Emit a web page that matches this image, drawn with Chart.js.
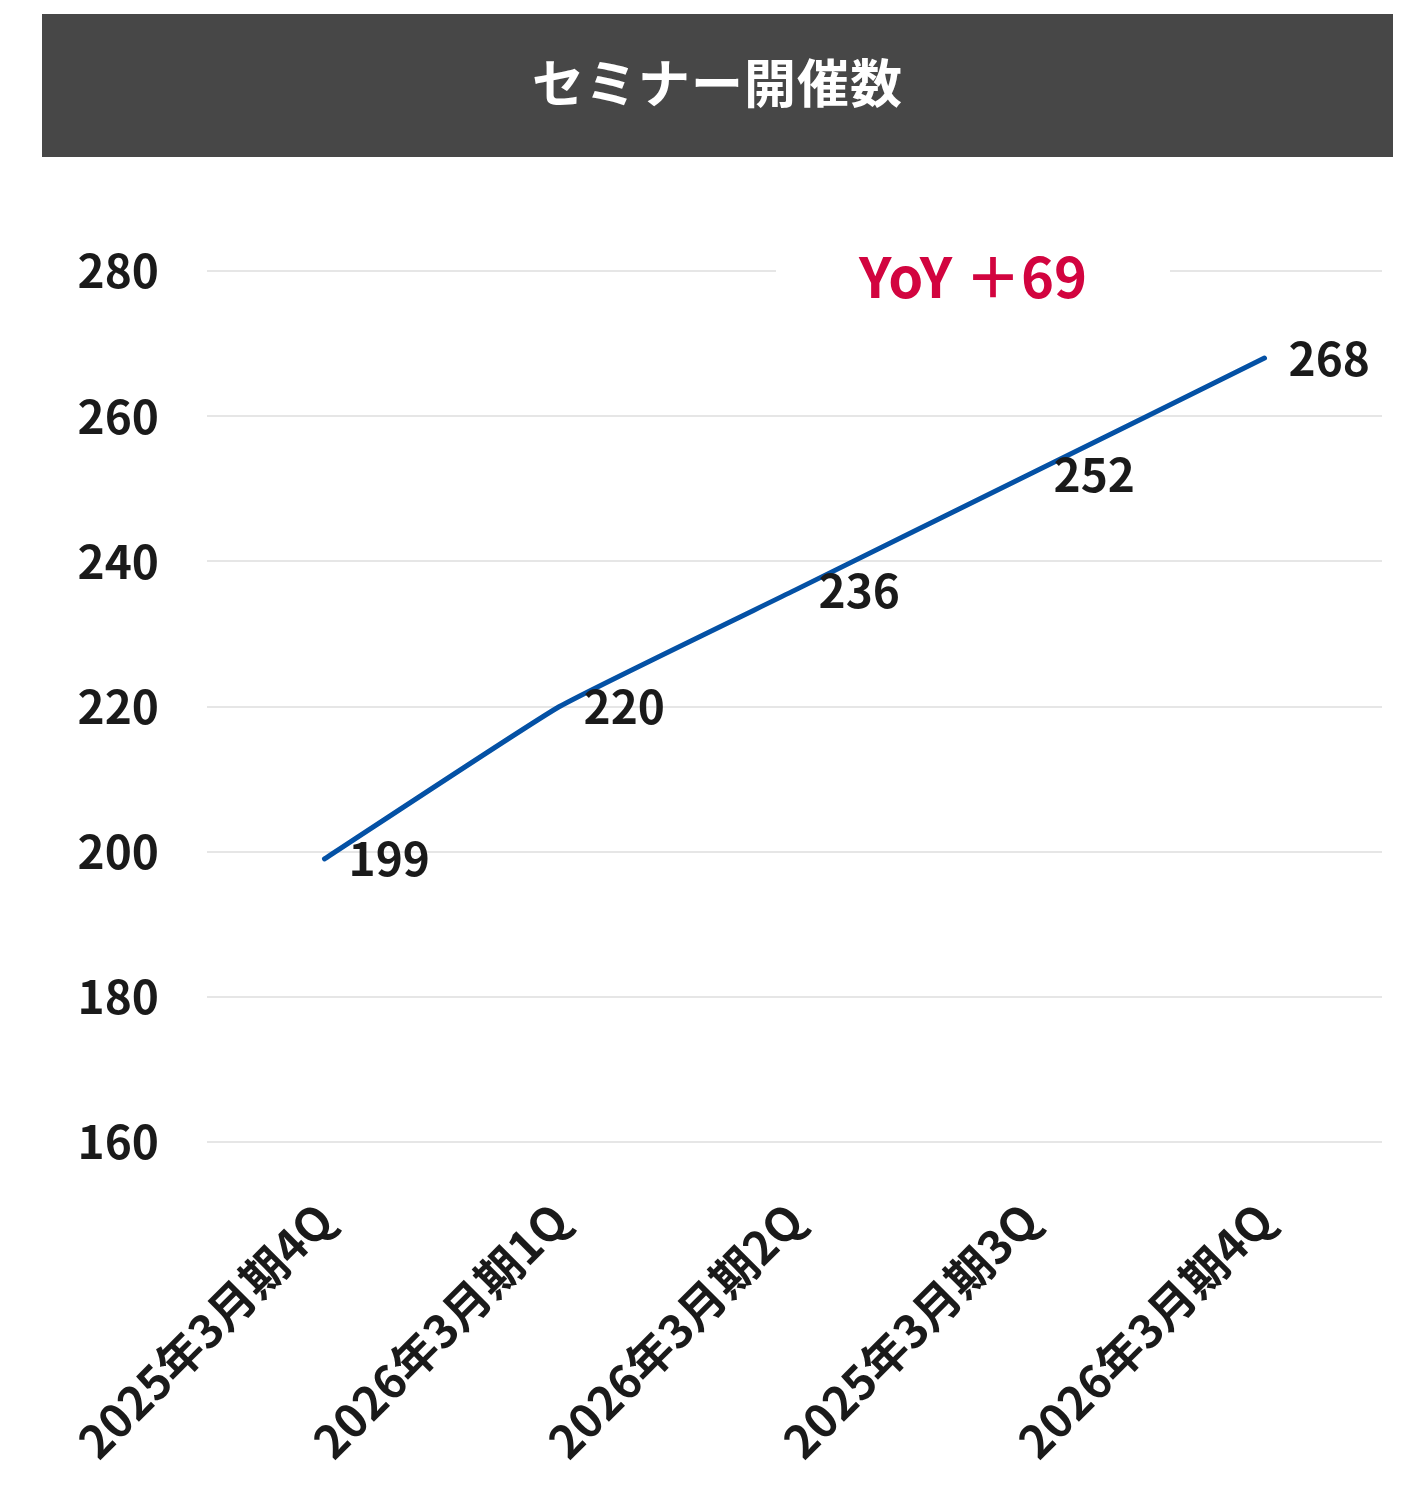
<!DOCTYPE html>
<html lang="ja">
<head>
<meta charset="utf-8">
<title>セミナー開催数</title>
<script src="https://cdn.jsdelivr.net/npm/chart.js@4.4.1/dist/chart.umd.min.js"></script>
<style>
  html, body { margin: 0; padding: 0; background: #fff; }
  body { width: 1415px; height: 1499px; position: relative; overflow: hidden; }
  #header {
    position: absolute; left: 42px; top: 14px; width: 1351px; height: 143px;
    background: #474747; color: #fff;
    font-family: "Noto Sans CJK JP", sans-serif; font-weight: 700; font-size: 52px;
    letter-spacing: 1px; line-height: 133px;
    text-align: center;
  }
  #chart { position: absolute; left: 0; top: 0; }
</style>
</head>
<body>
<canvas id="chart" width="1415" height="1499"></canvas>
<div id="header">セミナー開催数</div>
<script>
var FONT = '"Noto Sans CJK JP", sans-serif';
var TEXT_COLOR = '#1a1a1a';

var quarters = ['2025年3月期4Q', '2026年3月期1Q', '2026年3月期2Q', '2025年3月期3Q', '2026年3月期4Q'];
var seminarCounts = [199, 220, 236, 252, 268];
var yTicks = [160, 180, 200, 220, 240, 260, 280];
var yoyText = 'YoY ＋69';

// numbers next to each point, drawn over the line
var valueLabels = {
  id: 'valueLabels',
  afterDatasetsDraw: function(chart) {
    var ctx = chart.ctx;
    var meta = chart.getDatasetMeta(0);
    ctx.save();
    ctx.font = '700 46px ' + FONT;
    ctx.fillStyle = TEXT_COLOR;
    ctx.textAlign = 'left';
    ctx.textBaseline = 'middle';
    meta.data.forEach(function(pt, i) {
      ctx.fillText(String(chart.data.datasets[0].data[i]), pt.x + 24, pt.y);
    });
    ctx.restore();
  }
};

// YoY note sitting on the top gridline
var yoyNote = {
  id: 'yoyNote',
  afterDatasetsDraw: function(chart) {
    var ctx = chart.ctx;
    var y = chart.scales.y.getPixelForValue(yTicks[yTicks.length - 1]);
    ctx.save();
    ctx.fillStyle = '#fff';
    ctx.fillRect(776, y - 30, 394, 60);
    ctx.font = '700 56px ' + FONT;
    ctx.fillStyle = '#d2043f';
    ctx.textAlign = 'center';
    ctx.textBaseline = 'middle';
    ctx.fillText(yoyText, 973, y + 6);
    ctx.restore();
  }
};

new Chart(document.getElementById('chart'), {
  type: 'line',
  data: {
    labels: quarters,
    datasets: [{
      data: seminarCounts,
      borderColor: '#0451a5',
      borderWidth: 5,
      borderCapStyle: 'round',
      tension: 0.12,
      pointRadius: 0,
      fill: false
    }]
  },
  options: {
    responsive: false,
    animation: false,
    devicePixelRatio: 1,
    layout: { padding: { top: 271, right: 33, left: 0, bottom: 0 } },
    plugins: { legend: { display: false }, tooltip: { enabled: false }, title: { display: false } },
    scales: {
      x: {
        offset: true,
        grid: { display: false },
        border: { display: false },
        ticks: {
          color: TEXT_COLOR,
          font: { family: FONT, size: 46, weight: '700' },
          minRotation: 45,
          maxRotation: 45,
          padding: 42,
          autoSkip: false
        },
        afterFit: function(s) { s.height = 1499 - 1142; }
      },
      y: {
        min: yTicks[0],
        max: yTicks[yTicks.length - 1],
        border: { display: false },
        grid: { color: '#e6e6e6', lineWidth: 2, drawTicks: false },
        ticks: {
          stepSize: 20,
          color: TEXT_COLOR,
          font: { family: FONT, size: 46, weight: '700' },
          padding: 48
        },
        afterFit: function(s) { s.width = 207; }
      }
    }
  },
  plugins: [valueLabels, yoyNote]
});
</script>
</body>
</html>
